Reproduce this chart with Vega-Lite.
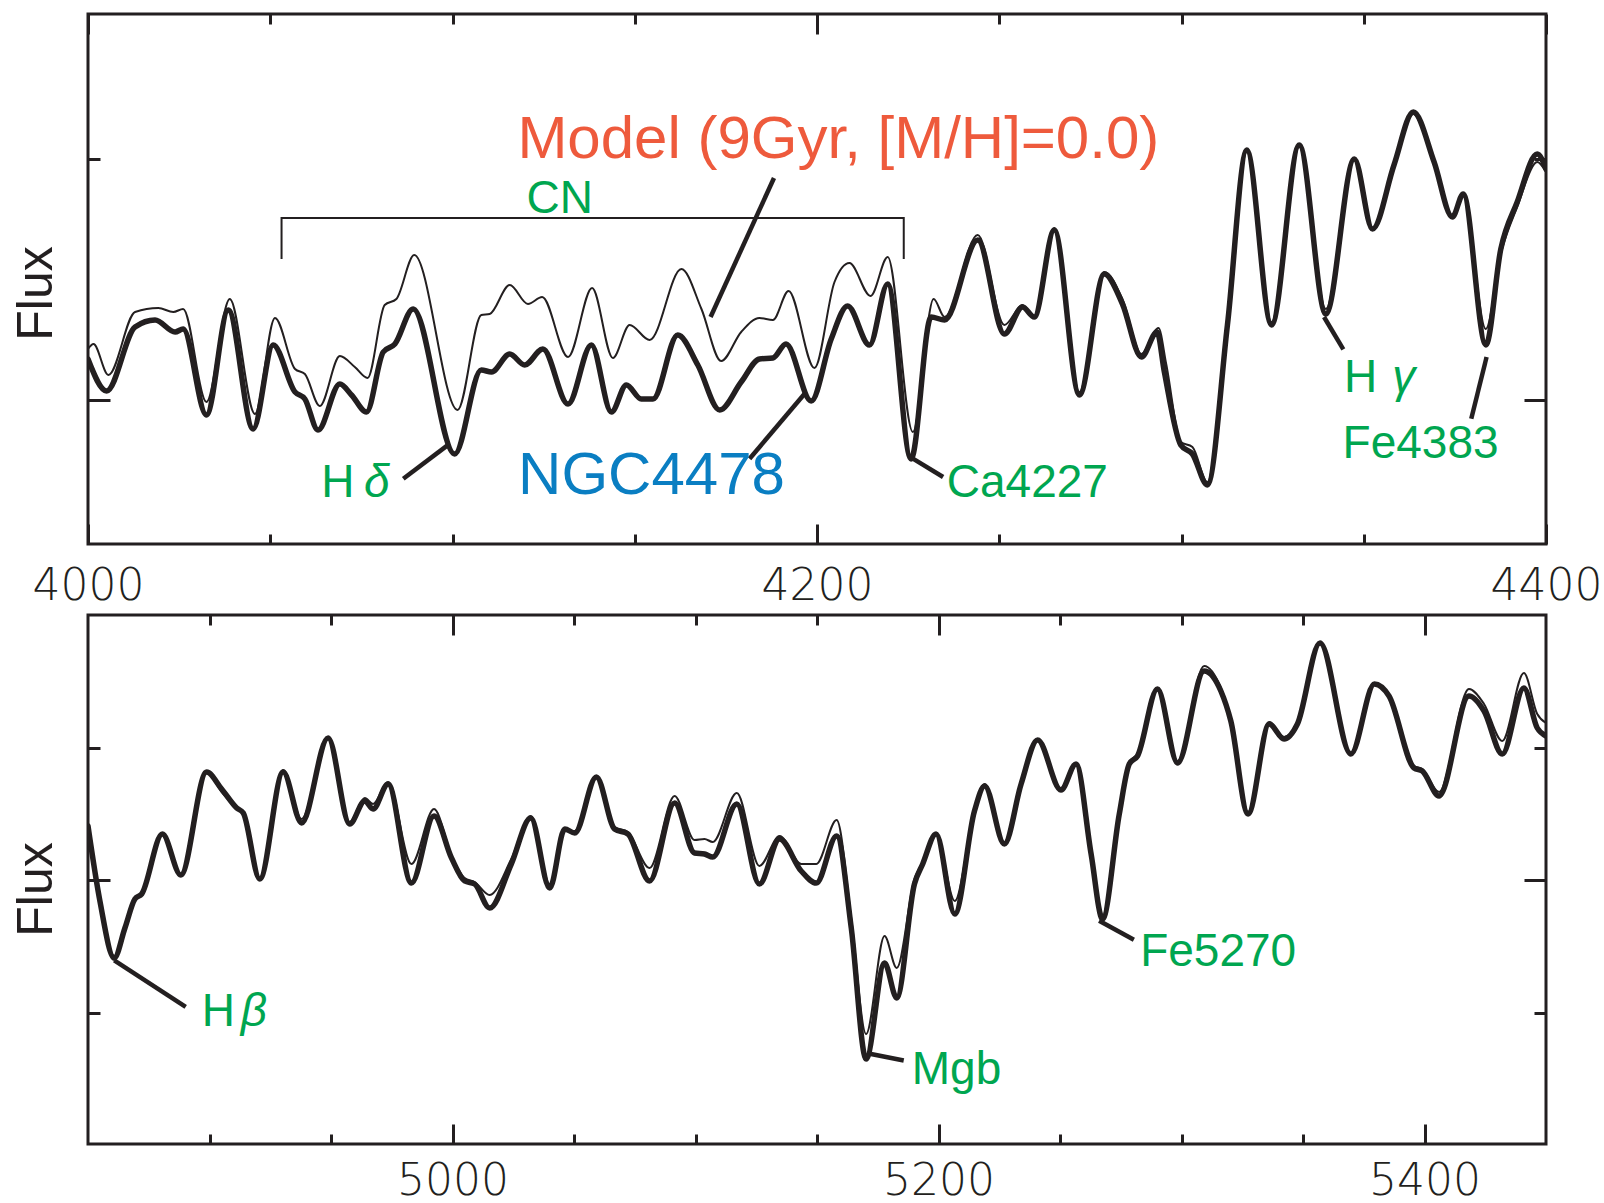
{
  "$schema": "https://vega.github.io/schema/vega-lite/v6.json",
  "autosize": {"type": "pad"},
  "padding": {"left": 9, "top": 11, "right": 5, "bottom": 5},
  "bounds": "flush",
  "spacing": 71,
  "background": "white",
  "config": {
    "view": {"stroke": "#231f20", "strokeWidth": 3},
    "axis": {"domain": false, "grid": false, "tickColor": "#231f20", "tickWidth": 3, "labelColor": "#231f20", "titleColor": "#231f20"}
  },
  "datasets": {
    "topspec": [
      {"s":"NGC4478","w":4000,"f":1.85},{"s":"NGC4478","w":4005.1,"f":1.53},{"s":"NGC4478","w":4012.9,"f":2.17},{"s":"NGC4478","w":4018.4,"f":2.24},{"s":"NGC4478","w":4023.9,"f":2.12},{"s":"NGC4478","w":4026.1,"f":2.15},{"s":"NGC4478","w":4032.5,"f":1.29},{"s":"NGC4478","w":4038.5,"f":2.34},{"s":"NGC4478","w":4045.3,"f":1.15},{"s":"NGC4478","w":4050.8,"f":1.99},{"s":"NGC4478","w":4056.8,"f":1.52},{"s":"NGC4478","w":4059.5,"f":1.45},{"s":"NGC4478","w":4063.1,"f":1.14},{"s":"NGC4478","w":4069.1,"f":1.60},{"s":"NGC4478","w":4072.3,"f":1.49},{"s":"NGC4478","w":4076.4,"f":1.32},{"s":"NGC4478","w":4081.0,"f":1.92},{"s":"NGC4478","w":4084.2,"f":2.00},{"s":"NGC4478","w":4089.2,"f":2.35},{"s":"NGC4478","w":4100.6,"f":0.90},{"s":"NGC4478","w":4107.9,"f":1.74},{"s":"NGC4478","w":4110.7,"f":1.72},{"s":"NGC4478","w":4115.7,"f":1.90},{"s":"NGC4478","w":4119.8,"f":1.79},{"s":"NGC4478","w":4124.8,"f":1.95},{"s":"NGC4478","w":4131.7,"f":1.40},{"s":"NGC4478","w":4138.1,"f":1.99},{"s":"NGC4478","w":4143.6,"f":1.32},{"s":"NGC4478","w":4147.7,"f":1.59},{"s":"NGC4478","w":4151.8,"f":1.45},{"s":"NGC4478","w":4155.0,"f":1.45},{"s":"NGC4478","w":4161.8,"f":2.09},{"s":"NGC4478","w":4167.3,"f":1.79},{"s":"NGC4478","w":4173.3,"f":1.34},{"s":"NGC4478","w":4179.2,"f":1.62},{"s":"NGC4478","w":4184.2,"f":1.85},{"s":"NGC4478","w":4187.9,"f":1.86},{"s":"NGC4478","w":4191.5,"f":2.00},{"s":"NGC4478","w":4198.4,"f":1.43},{"s":"NGC4478","w":4203.9,"f":2.05},{"s":"NGC4478","w":4208.4,"f":2.38},{"s":"NGC4478","w":4214.4,"f":1.99},{"s":"NGC4478","w":4219.4,"f":2.60},{"s":"NGC4478","w":4225.8,"f":0.85},{"s":"NGC4478","w":4231.3,"f":2.27},{"s":"NGC4478","w":4235.0,"f":2.24},{"s":"NGC4478","w":4244.1,"f":3.04},{"s":"NGC4478","w":4251.4,"f":2.10},{"s":"NGC4478","w":4256.4,"f":2.37},{"s":"NGC4478","w":4259.6,"f":2.27},{"s":"NGC4478","w":4265.1,"f":3.14},{"s":"NGC4478","w":4272.0,"f":1.49},{"s":"NGC4478","w":4278.8,"f":2.70},{"s":"NGC4478","w":4283.8,"f":2.40},{"s":"NGC4478","w":4289.0,"f":1.87},{"s":"NGC4478","w":4293.3,"f":2.12},{"s":"NGC4478","w":4295.3,"f":1.72},{"s":"NGC4478","w":4299.8,"f":0.99},{"s":"NGC4478","w":4303.0,"f":0.90},{"s":"NGC4478","w":4307.1,"f":0.59},{"s":"NGC4478","w":4312.6,"f":2.19},{"s":"NGC4478","w":4317.9,"f":3.94},{"s":"NGC4478","w":4324.7,"f":2.19},{"s":"NGC4478","w":4332.3,"f":3.99},{"s":"NGC4478","w":4339.6,"f":2.30},{"s":"NGC4478","w":4347.4,"f":3.85},{"s":"NGC4478","w":4352.4,"f":3.15},{"s":"NGC4478","w":4358.3,"f":3.79},{"s":"NGC4478","w":4363.6,"f":4.32},{"s":"NGC4478","w":4369.3,"f":3.82},{"s":"NGC4478","w":4374.3,"f":3.27},{"s":"NGC4478","w":4377.3,"f":3.50},{"s":"NGC4478","w":4383.5,"f":1.99},{"s":"NGC4478","w":4387.6,"f":2.95},{"s":"NGC4478","w":4392.1,"f":3.42},{"s":"NGC4478","w":4397.6,"f":3.90},{"s":"NGC4478","w":4400,"f":3.75},
      {"s":"Model","w":4000,"f":1.95},{"s":"Model","w":4001.5,"f":2.00},{"s":"Model","w":4005.6,"f":1.69},{"s":"Model","w":4012.9,"f":2.32},{"s":"Model","w":4019.3,"f":2.36},{"s":"Model","w":4023.4,"f":2.32},{"s":"Model","w":4026.1,"f":2.35},{"s":"Model","w":4032.5,"f":1.42},{"s":"Model","w":4038.9,"f":2.45},{"s":"Model","w":4045.8,"f":1.30},{"s":"Model","w":4051.3,"f":2.26},{"s":"Model","w":4056.8,"f":1.75},{"s":"Model","w":4059.5,"f":1.70},{"s":"Model","w":4063.6,"f":1.38},{"s":"Model","w":4069.1,"f":1.88},{"s":"Model","w":4073.2,"f":1.77},{"s":"Model","w":4076.7,"f":1.66},{"s":"Model","w":4081.4,"f":2.39},{"s":"Model","w":4084.6,"f":2.45},{"s":"Model","w":4089.5,"f":2.89},{"s":"Model","w":4101.4,"f":1.34},{"s":"Model","w":4107.9,"f":2.29},{"s":"Model","w":4110.2,"f":2.30},{"s":"Model","w":4115.7,"f":2.59},{"s":"Model","w":4120.7,"f":2.40},{"s":"Model","w":4124.6,"f":2.47},{"s":"Model","w":4131.7,"f":1.87},{"s":"Model","w":4138.3,"f":2.56},{"s":"Model","w":4144.0,"f":1.86},{"s":"Model","w":4148.6,"f":2.19},{"s":"Model","w":4154.1,"f":2.04},{"s":"Model","w":4162.8,"f":2.75},{"s":"Model","w":4168.3,"f":2.35},{"s":"Model","w":4173.7,"f":1.83},{"s":"Model","w":4179.2,"f":2.12},{"s":"Model","w":4184.2,"f":2.26},{"s":"Model","w":4187.9,"f":2.24},{"s":"Model","w":4192.2,"f":2.53},{"s":"Model","w":4199.3,"f":1.76},{"s":"Model","w":4204.8,"f":2.62},{"s":"Model","w":4208.9,"f":2.81},{"s":"Model","w":4214.7,"f":2.48},{"s":"Model","w":4219.4,"f":2.87},{"s":"Model","w":4226.3,"f":1.12},{"s":"Model","w":4232.0,"f":2.45},{"s":"Model","w":4235.0,"f":2.27},{"s":"Model","w":4244.1,"f":3.09},{"s":"Model","w":4251.4,"f":2.19},{"s":"Model","w":4256.4,"f":2.39},{"s":"Model","w":4259.6,"f":2.27},{"s":"Model","w":4265.1,"f":3.16},{"s":"Model","w":4272.0,"f":1.52},{"s":"Model","w":4278.8,"f":2.72},{"s":"Model","w":4283.8,"f":2.45},{"s":"Model","w":4289.0,"f":1.90},{"s":"Model","w":4293.7,"f":2.16},{"s":"Model","w":4295.8,"f":1.80},{"s":"Model","w":4299.8,"f":1.02},{"s":"Model","w":4303.0,"f":0.97},{"s":"Model","w":4307.1,"f":0.62},{"s":"Model","w":4312.6,"f":2.19},{"s":"Model","w":4317.9,"f":3.92},{"s":"Model","w":4324.7,"f":2.22},{"s":"Model","w":4332.3,"f":3.97},{"s":"Model","w":4339.6,"f":2.35},{"s":"Model","w":4347.4,"f":3.84},{"s":"Model","w":4352.4,"f":3.15},{"s":"Model","w":4358.3,"f":3.77},{"s":"Model","w":4363.6,"f":4.30},{"s":"Model","w":4369.3,"f":3.80},{"s":"Model","w":4374.3,"f":3.29},{"s":"Model","w":4377.3,"f":3.49},{"s":"Model","w":4383.5,"f":2.15},{"s":"Model","w":4387.6,"f":2.90},{"s":"Model","w":4392.1,"f":3.37},{"s":"Model","w":4397.6,"f":3.82},{"s":"Model","w":4400,"f":3.72}
    ],
    "botspec": [
      {"s":"NGC4478","w":4850,"f":3.18},{"s":"NGC4478","w":4854.9,"f":2.43},{"s":"NGC4478","w":4860.8,"f":1.86},{"s":"NGC4478","w":4865.2,"f":2.16},{"s":"NGC4478","w":4869.3,"f":2.45},{"s":"NGC4478","w":4872.1,"f":2.50},{"s":"NGC4478","w":4880.6,"f":3.10},{"s":"NGC4478","w":4888.2,"f":2.69},{"s":"NGC4478","w":4898.8,"f":3.72},{"s":"NGC4478","w":4905.0,"f":3.55},{"s":"NGC4478","w":4911.2,"f":3.36},{"s":"NGC4478","w":4913.9,"f":3.31},{"s":"NGC4478","w":4920.7,"f":2.65},{"s":"NGC4478","w":4930.3,"f":3.72},{"s":"NGC4478","w":4937.9,"f":3.21},{"s":"NGC4478","w":4948.8,"f":4.06},{"s":"NGC4478","w":4957.7,"f":3.20},{"s":"NGC4478","w":4963.9,"f":3.43},{"s":"NGC4478","w":4967.3,"f":3.35},{"s":"NGC4478","w":4973.5,"f":3.60},{"s":"NGC4478","w":4983.1,"f":2.61},{"s":"NGC4478","w":4992.4,"f":3.28},{"s":"NGC4478","w":4999.6,"f":2.86},{"s":"NGC4478","w":5005.0,"f":2.63},{"s":"NGC4478","w":5009.1,"f":2.60},{"s":"NGC4478","w":5015.3,"f":2.36},{"s":"NGC4478","w":5024.2,"f":2.80},{"s":"NGC4478","w":5032.2,"f":3.26},{"s":"NGC4478","w":5040.0,"f":2.56},{"s":"NGC4478","w":5046.2,"f":3.15},{"s":"NGC4478","w":5050.3,"f":3.11},{"s":"NGC4478","w":5059.2,"f":3.67},{"s":"NGC4478","w":5066.7,"f":3.15},{"s":"NGC4478","w":5072.2,"f":3.10},{"s":"NGC4478","w":5081.1,"f":2.63},{"s":"NGC4478","w":5091.4,"f":3.41},{"s":"NGC4478","w":5099.6,"f":2.91},{"s":"NGC4478","w":5103.7,"f":2.90},{"s":"NGC4478","w":5107.1,"f":2.87},{"s":"NGC4478","w":5117.0,"f":3.40},{"s":"NGC4478","w":5126.3,"f":2.60},{"s":"NGC4478","w":5134.6,"f":3.05},{"s":"NGC4478","w":5143.5,"f":2.73},{"s":"NGC4478","w":5149.7,"f":2.61},{"s":"NGC4478","w":5158.1,"f":3.08},{"s":"NGC4478","w":5164.1,"f":2.16},{"s":"NGC4478","w":5170.2,"f":0.85},{"s":"NGC4478","w":5177.8,"f":1.81},{"s":"NGC4478","w":5182.8,"f":1.46},{"s":"NGC4478","w":5190.1,"f":2.60},{"s":"NGC4478","w":5193.5,"f":2.80},{"s":"NGC4478","w":5199.0,"f":3.10},{"s":"NGC4478","w":5206.7,"f":2.30},{"s":"NGC4478","w":5214.8,"f":3.33},{"s":"NGC4478","w":5219.0,"f":3.58},{"s":"NGC4478","w":5227.1,"f":3.00},{"s":"NGC4478","w":5234.0,"f":3.60},{"s":"NGC4478","w":5240.8,"f":4.04},{"s":"NGC4478","w":5250.4,"f":3.54},{"s":"NGC4478","w":5256.6,"f":3.80},{"s":"NGC4478","w":5262.8,"f":2.90},{"s":"NGC4478","w":5267.5,"f":2.25},{"s":"NGC4478","w":5274.4,"f":3.30},{"s":"NGC4478","w":5278.5,"f":3.80},{"s":"NGC4478","w":5281.9,"f":3.88},{"s":"NGC4478","w":5290.1,"f":4.55},{"s":"NGC4478","w":5298.4,"f":3.81},{"s":"NGC4478","w":5309.3,"f":4.73},{"s":"NGC4478","w":5316.2,"f":4.53},{"s":"NGC4478","w":5320.3,"f":4.23},{"s":"NGC4478","w":5327.4,"f":3.30},{"s":"NGC4478","w":5336.1,"f":4.20},{"s":"NGC4478","w":5342.2,"f":4.05},{"s":"NGC4478","w":5347.7,"f":4.20},{"s":"NGC4478","w":5357.0,"f":5.01},{"s":"NGC4478","w":5369.7,"f":3.90},{"s":"NGC4478","w":5379.4,"f":4.60},{"s":"NGC4478","w":5385.4,"f":4.48},{"s":"NGC4478","w":5395.7,"f":3.76},{"s":"NGC4478","w":5399.1,"f":3.73},{"s":"NGC4478","w":5406.0,"f":3.48},{"s":"NGC4478","w":5418.3,"f":4.48},{"s":"NGC4478","w":5424.5,"f":4.33},{"s":"NGC4478","w":5432.0,"f":3.90},{"s":"NGC4478","w":5440.9,"f":4.56},{"s":"NGC4478","w":5446.4,"f":4.16},{"s":"NGC4478","w":5450,"f":4.08},
      {"s":"Model","w":4850,"f":3.18},{"s":"Model","w":4854.9,"f":2.43},{"s":"Model","w":4860.8,"f":1.88},{"s":"Model","w":4865.2,"f":2.18},{"s":"Model","w":4869.3,"f":2.45},{"s":"Model","w":4872.1,"f":2.50},{"s":"Model","w":4880.6,"f":3.10},{"s":"Model","w":4888.2,"f":2.69},{"s":"Model","w":4898.8,"f":3.72},{"s":"Model","w":4905.0,"f":3.52},{"s":"Model","w":4911.2,"f":3.36},{"s":"Model","w":4913.9,"f":3.31},{"s":"Model","w":4920.7,"f":2.66},{"s":"Model","w":4930.3,"f":3.74},{"s":"Model","w":4937.9,"f":3.25},{"s":"Model","w":4948.8,"f":4.06},{"s":"Model","w":4957.7,"f":3.22},{"s":"Model","w":4963.9,"f":3.46},{"s":"Model","w":4967.3,"f":3.40},{"s":"Model","w":4973.5,"f":3.62},{"s":"Model","w":4983.1,"f":2.80},{"s":"Model","w":4992.4,"f":3.35},{"s":"Model","w":4999.6,"f":2.88},{"s":"Model","w":5005.0,"f":2.66},{"s":"Model","w":5009.1,"f":2.62},{"s":"Model","w":5015.3,"f":2.49},{"s":"Model","w":5024.2,"f":2.85},{"s":"Model","w":5032.2,"f":3.28},{"s":"Model","w":5040.0,"f":2.60},{"s":"Model","w":5046.2,"f":3.13},{"s":"Model","w":5050.3,"f":3.13},{"s":"Model","w":5059.2,"f":3.68},{"s":"Model","w":5066.7,"f":3.17},{"s":"Model","w":5072.2,"f":3.12},{"s":"Model","w":5081.1,"f":2.76},{"s":"Model","w":5091.4,"f":3.48},{"s":"Model","w":5099.6,"f":3.04},{"s":"Model","w":5103.7,"f":3.05},{"s":"Model","w":5107.1,"f":3.02},{"s":"Model","w":5117.0,"f":3.51},{"s":"Model","w":5126.3,"f":2.78},{"s":"Model","w":5134.6,"f":3.08},{"s":"Model","w":5143.5,"f":2.80},{"s":"Model","w":5149.7,"f":2.80},{"s":"Model","w":5158.1,"f":3.24},{"s":"Model","w":5164.1,"f":2.25},{"s":"Model","w":5170.2,"f":1.10},{"s":"Model","w":5177.8,"f":2.08},{"s":"Model","w":5182.8,"f":1.76},{"s":"Model","w":5190.1,"f":2.65},{"s":"Model","w":5193.5,"f":2.82},{"s":"Model","w":5199.0,"f":3.10},{"s":"Model","w":5206.7,"f":2.43},{"s":"Model","w":5214.8,"f":3.35},{"s":"Model","w":5219.0,"f":3.60},{"s":"Model","w":5227.1,"f":3.02},{"s":"Model","w":5234.0,"f":3.60},{"s":"Model","w":5240.8,"f":4.04},{"s":"Model","w":5250.4,"f":3.56},{"s":"Model","w":5256.6,"f":3.80},{"s":"Model","w":5262.8,"f":2.92},{"s":"Model","w":5267.5,"f":2.28},{"s":"Model","w":5274.4,"f":3.32},{"s":"Model","w":5278.5,"f":3.82},{"s":"Model","w":5281.9,"f":3.90},{"s":"Model","w":5290.1,"f":4.55},{"s":"Model","w":5298.4,"f":3.83},{"s":"Model","w":5309.3,"f":4.78},{"s":"Model","w":5316.2,"f":4.56},{"s":"Model","w":5320.3,"f":4.25},{"s":"Model","w":5327.4,"f":3.32},{"s":"Model","w":5336.1,"f":4.22},{"s":"Model","w":5342.2,"f":4.07},{"s":"Model","w":5347.7,"f":4.21},{"s":"Model","w":5357.0,"f":5.01},{"s":"Model","w":5369.7,"f":3.91},{"s":"Model","w":5379.4,"f":4.60},{"s":"Model","w":5385.4,"f":4.50},{"s":"Model","w":5395.7,"f":3.78},{"s":"Model","w":5399.1,"f":3.75},{"s":"Model","w":5406.0,"f":3.52},{"s":"Model","w":5418.3,"f":4.55},{"s":"Model","w":5424.5,"f":4.40},{"s":"Model","w":5432.0,"f":4.03},{"s":"Model","w":5440.9,"f":4.71},{"s":"Model","w":5446.4,"f":4.30},{"s":"Model","w":5450,"f":4.21}
    ]
  },
  "vconcat": [
    {
      "width": 1458,
      "height": 530,
      "layer": [
        {
          "data": {"name": "topspec"},
          "transform": [{"filter": "datum.s == 'NGC4478'"}],
          "mark": {"type": "line", "interpolate": "monotone", "strokeWidth": 5.5, "color": "#231f20", "strokeJoin": "round", "strokeCap": "round", "clip": true},
          "encoding": {
            "x": {"field": "w", "type": "quantitative", "scale": {"domain": [4000, 4400], "nice": false, "zero": false},
                  "axis": {"orient": "bottom", "values": [4050,4100,4150,4250,4300,4350], "labels": false, "tickSize": -10, "title": null}},
            "y": {"field": "f", "type": "quantitative", "scale": {"domain": [0, 5.3], "nice": false, "zero": false},
                  "axis": {"orient": "left", "values": [3.855], "labels": false, "tickSize": -12, "title": "Flux", "titleFont": "Liberation Sans", "titleFontSize": 50, "titleFontWeight": "normal", "titleAngle": -90, "titleAlign": "center", "titleBaseline": "middle", "titleX": -52, "titleY": 279}}
          }
        },
        {
          "data": {"name": "topspec"},
          "transform": [{"filter": "datum.s == 'Model'"}],
          "mark": {"type": "line", "interpolate": "monotone", "strokeWidth": 2, "color": "#231f20", "clip": true},
          "encoding": {
            "x": {"field": "w", "type": "quantitative", "axis": {"orient": "top", "values": [4050,4100,4150,4250,4300,4350], "labels": false, "tickSize": -10, "title": null}},
            "y": {"field": "f", "type": "quantitative", "axis": {"orient": "right", "values": [3.855], "labels": false, "tickSize": -12, "title": null}}
          }
        },
        {
          "data": {"values": [{"i":1,"w":4053.1,"f":2.85},{"i":2,"w":4053.1,"f":3.26},{"i":3,"w":4223.8,"f":3.26},{"i":4,"w":4223.8,"f":2.85}]},
          "mark": {"type": "line", "strokeWidth": 2, "color": "#231f20"},
          "encoding": {
            "x": {"field": "w", "type": "quantitative", "axis": {"orient": "bottom", "values": [4000, 4200, 4400], "format": "d", "tickSize": -20, "labelPadding": 40, "labelFlush": false, "labelFont": "DejaVu Sans", "labelFontSize": 44, "labelFontWeight": 200, "title": null}},
            "y": {"field": "f", "type": "quantitative", "axis": {"orient": "left", "values": [1.44], "labels": false, "tickSize": -22, "title": null}},
            "order": {"field": "i"}
          }
        },
        {
          "data": {"values": [
            {"w1":4188.2,"f1":3.66,"w2":4170.8,"f2":2.27},
            {"w1":4086.5,"f1":0.652,"w2":4098.8,"f2":0.991},
            {"w1":4181.5,"f1":0.853,"w2":4196.6,"f2":1.503},
            {"w1":4226.2,"f1":0.856,"w2":4234.6,"f2":0.67},
            {"w1":4339.1,"f1":2.27,"w2":4344.4,"f2":1.947},
            {"w1":4383.7,"f1":1.87,"w2":4379.5,"f2":1.253}
          ]},
          "mark": {"type": "rule", "strokeWidth": 4.5, "color": "#231f20", "strokeCap": "butt"},
          "encoding": {
            "x": {"field": "w1", "type": "quantitative", "axis": {"orient": "top", "values": [4000, 4200, 4400], "labels": false, "tickSize": -20, "title": null}},
            "y": {"field": "f1", "type": "quantitative", "axis": {"orient": "right", "values": [1.44], "labels": false, "tickSize": -22, "title": null}},
            "x2": {"field": "w2"},
            "y2": {"field": "f2"}
          }
        },
        {
          "data": {"values": [{"text": "Model (9Gyr, [M/H]=0.0)", "w": 4117.8, "f": 3.86}]},
          "mark": {"type": "text", "align": "left", "baseline": "alphabetic", "font": "Liberation Sans", "fontSize": 60, "color": "#ee5a3c"},
          "encoding": {"x": {"field": "w", "type": "quantitative", "axis": null}, "y": {"field": "f", "type": "quantitative", "axis": null}, "text": {"field": "text"}}
        },
        {
          "data": {"values": [{"text": "NGC4478", "w": 4118.0, "f": 0.50}]},
          "mark": {"type": "text", "align": "left", "baseline": "alphabetic", "font": "Liberation Sans", "fontSize": 60, "color": "#0a7ec2"},
          "encoding": {"x": {"field": "w", "type": "quantitative", "axis": null}, "y": {"field": "f", "type": "quantitative", "axis": null}, "text": {"field": "text"}}
        },
        {
          "data": {"values": [
            {"text": "CN", "w": 4120.3, "f": 3.313},
            {"text": "H", "w": 4064.0, "f": 0.474},
            {"text": "Ca4227", "w": 4235.6, "f": 0.474},
            {"text": "H", "w": 4344.6, "f": 1.52},
            {"text": "Fe4383", "w": 4344.2, "f": 0.86}
          ]},
          "mark": {"type": "text", "align": "left", "baseline": "alphabetic", "font": "Liberation Sans", "fontSize": 46, "color": "#00a650"},
          "encoding": {"x": {"field": "w", "type": "quantitative", "axis": null}, "y": {"field": "f", "type": "quantitative", "axis": null}, "text": {"field": "text"}}
        },
        {
          "data": {"values": [
            {"text": "δ", "w": 4075.7, "f": 0.474},
            {"text": "γ", "w": 4357.8, "f": 1.52}
          ]},
          "mark": {"type": "text", "align": "left", "baseline": "alphabetic", "font": "Liberation Sans", "fontSize": 46, "fontStyle": "italic", "color": "#00a650"},
          "encoding": {"x": {"field": "w", "type": "quantitative", "axis": null}, "y": {"field": "f", "type": "quantitative", "axis": null}, "text": {"field": "text"}}
        }
      ],
      "resolve": {"axis": {"x": "independent", "y": "independent"}}
    },
    {
      "width": 1458,
      "height": 529,
      "layer": [
        {
          "data": {"name": "botspec"},
          "transform": [{"filter": "datum.s == 'NGC4478'"}],
          "mark": {"type": "line", "interpolate": "monotone", "strokeWidth": 5.5, "color": "#231f20", "strokeJoin": "round", "strokeCap": "round", "clip": true},
          "encoding": {
            "x": {"field": "w", "type": "quantitative", "scale": {"domain": [4850, 5450], "nice": false, "zero": false},
                  "axis": {"orient": "bottom", "values": [4900,4950,5050,5100,5150,5250,5300,5350], "labels": false, "tickSize": -10, "title": null}},
            "y": {"field": "f", "type": "quantitative", "scale": {"domain": [0, 5.29], "nice": false, "zero": false},
                  "axis": {"orient": "left", "values": [1.31, 3.96], "labels": false, "tickSize": -12, "title": "Flux", "titleFont": "Liberation Sans", "titleFontSize": 50, "titleFontWeight": "normal", "titleAngle": -90, "titleAlign": "center", "titleBaseline": "middle", "titleX": -52, "titleY": 274}}
          }
        },
        {
          "data": {"name": "botspec"},
          "transform": [{"filter": "datum.s == 'Model'"}],
          "mark": {"type": "line", "interpolate": "monotone", "strokeWidth": 2, "color": "#231f20", "clip": true},
          "encoding": {
            "x": {"field": "w", "type": "quantitative", "axis": {"orient": "top", "values": [4900,4950,5050,5100,5150,5250,5300,5350], "labels": false, "tickSize": -10, "title": null}},
            "y": {"field": "f", "type": "quantitative", "axis": {"orient": "right", "values": [1.31, 3.96], "labels": false, "tickSize": -12, "title": null}}
          }
        },
        {
          "data": {"values": [
            {"w1":4860.8,"f1":1.836,"w2":4890.2,"f2":1.371},
            {"w1":5171.7,"f1":0.902,"w2":5185.7,"f2":0.835},
            {"w1":5266.1,"f1":2.233,"w2":5280.4,"f2":2.042}
          ]},
          "mark": {"type": "rule", "strokeWidth": 4.5, "color": "#231f20", "strokeCap": "butt"},
          "encoding": {
            "x": {"field": "w1", "type": "quantitative", "axis": {"orient": "bottom", "values": [5000, 5200, 5400], "format": "d", "tickSize": -20, "labelPadding": 35, "labelFlush": false, "labelFont": "DejaVu Sans", "labelFontSize": 44, "labelFontWeight": 200, "title": null}},
            "y": {"field": "f1", "type": "quantitative", "axis": {"orient": "left", "values": [2.64], "labels": false, "tickSize": -22, "title": null}},
            "x2": {"field": "w2"},
            "y2": {"field": "f2"}
          }
        },
        {
          "data": {"values": [
            {"text": "H", "w": 4896.8, "f": 1.18},
            {"text": "Mgb", "w": 5189.0, "f": 0.604},
            {"text": "Fe5270", "w": 5283.0, "f": 1.776}
          ]},
          "mark": {"type": "text", "align": "left", "baseline": "alphabetic", "font": "Liberation Sans", "fontSize": 46, "color": "#00a650"},
          "encoding": {"x": {"field": "w", "type": "quantitative", "axis": {"orient": "top", "values": [5000, 5200, 5400], "labels": false, "tickSize": -20, "title": null}}, "y": {"field": "f", "type": "quantitative", "axis": {"orient": "right", "values": [2.64], "labels": false, "tickSize": -22, "title": null}}, "text": {"field": "text"}}
        },
        {
          "data": {"values": [{"text": "β", "w": 4912.9, "f": 1.18}]},
          "mark": {"type": "text", "align": "left", "baseline": "alphabetic", "font": "Liberation Sans", "fontSize": 46, "fontStyle": "italic", "color": "#00a650"},
          "encoding": {"x": {"field": "w", "type": "quantitative", "axis": null}, "y": {"field": "f", "type": "quantitative", "axis": null}, "text": {"field": "text"}}
        }
      ],
      "resolve": {"axis": {"x": "independent", "y": "independent"}}
    }
  ]
}
